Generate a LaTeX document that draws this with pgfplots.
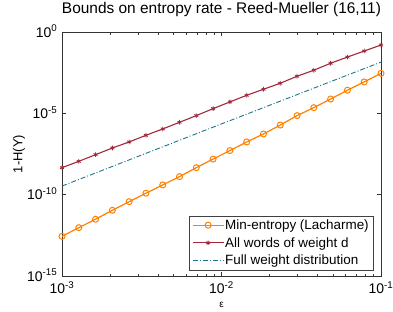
\documentclass[border=0pt]{standalone}
\usepackage{fontspec}
\setmainfont{Liberation Sans}
\usepackage{pgfplots}
\pgfplotsset{compat=1.18}
\definecolor{cOrange}{RGB}{255,128,0}
\definecolor{cRed}{RGB}{162,40,58}
\definecolor{cTeal}{RGB}{26,118,140}
\begin{document}
\begin{tikzpicture}
\useasboundingbox (-62bp,-36bp) rectangle (331bp,276bp);
\begin{axis}[
  at={(0,0)}, anchor=south west,
  scale only axis, width=319bp, height=244bp,
  xmode=log, ymode=log,
  xmin=1e-3, xmax=1e-1, ymin=1e-15, ymax=1,
  xtick={0.001,0.01,0.1},
  xticklabels={10\textsuperscript{-3},10\textsuperscript{-2},10\textsuperscript{-1}},
  ytick={1e-15,1e-10,1e-5,1},
  yticklabels={10\textsuperscript{-15},10\textsuperscript{-10},10\textsuperscript{-5},10\textsuperscript{0}},
  yminorticks=false,
  tick align=inside,
  major tick length=4bp, minor tick length=2.5bp,
  every tick/.style={black!80, line width=0.5bp},
  axis line style={black!80, line width=0.6bp},
  tick label style={font=\fontsize{14}{16}\selectfont},
  xticklabel style={anchor=north, inner sep=0pt, yshift=-5.5bp},
  yticklabel style={anchor=base east, inner sep=0pt, xshift=-4.5bp, yshift=-5bp},
  title={Bounds on entropy rate - Reed-Mueller (16,11)},
  title style={at={(axis description cs:0.5,1.0697)}, anchor=center, font=\fontsize{15.5}{17}\selectfont},
  xlabel={ε},
  xlabel style={at={(axis description cs:0.5,-0.119)}, anchor=center, font=\fontsize{10}{12}\selectfont},
  ylabel={1-H(Y)},
  ylabel style={at={(axis description cs:-0.135,0.5)}, anchor=center, font=\fontsize{13}{15}\selectfont},
  legend cell align=left,
  legend style={at={(1,0)}, anchor=south east, xshift=-8bp, yshift=6bp,
    font=\fontsize{13.5}{15}\selectfont, draw=black!75, line width=0.5bp,
    inner xsep=3bp, inner ysep=2.5bp, row sep=4.5bp,
    nodes={inner sep=1bp}},
  legend image code/.code={\draw[mark repeat=2,mark phase=2,#1] plot coordinates {(0bp,0bp) (15.5bp,0bp) (31bp,0bp)};},
]
\addplot[cOrange, line width=1.2bp, mark=o, mark size=3bp, mark options={solid, line width=1bp}] coordinates {
(0.001,2.754e-13) (0.0012743,9.333e-13) (0.0016238,3.090e-12) (0.0020691,1.096e-11)
(0.0026367,3.715e-11) (0.0033598,1.230e-10) (0.0042813,3.981e-10) (0.0054556,1.288e-9)
(0.0069519,4.571e-9) (0.0088587,1.549e-8) (0.011288,5.129e-8) (0.014384,1.738e-7)
(0.018330,5.370e-7) (0.023357,1.905e-6) (0.029764,7.244e-6) (0.037927,2.239e-5)
(0.048329,7.586e-5) (0.061585,2.630e-4) (0.078476,8.511e-4) (0.1,2.884e-3)
};
\addlegendentry{Min-entropy (Lacharme)}
\addplot[cRed, line width=1.1bp, mark=asterisk, mark size=2.3bp, mark options={solid, line width=0.8bp}] coordinates {
(0.001,4.571e-9) (0.0012743,1.122e-8) (0.0016238,2.884e-8) (0.0020691,7.413e-8)
(0.0026367,1.738e-7) (0.0033598,4.467e-7) (0.0042813,1.096e-6) (0.0054556,2.818e-6)
(0.0069519,7.244e-6) (0.0088587,1.950e-5) (0.011288,5.012e-5) (0.014384,1.288e-4)
(0.018330,3.020e-4) (0.023357,7.079e-4) (0.029764,1.905e-3) (0.037927,4.467e-3)
(0.048329,1.202e-2) (0.061585,2.884e-2) (0.078476,6.761e-2) (0.1,1.585e-1)
};
\addlegendentry{All words of weight d}
\addplot[cTeal, line width=0.9bp, dash pattern=on 5bp off 2bp on 1bp off 2bp] coordinates {
(0.001,3.39e-10) (0.01,2.24e-6) (0.1,1.41e-2)
};
\addlegendentry{Full weight distribution}
\end{axis}
\end{tikzpicture}
\end{document}
